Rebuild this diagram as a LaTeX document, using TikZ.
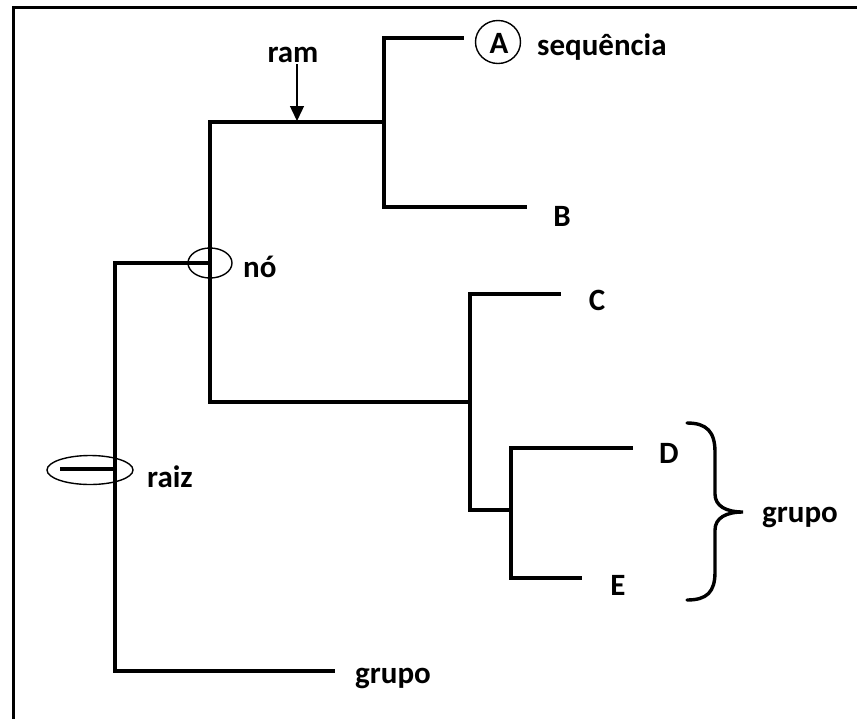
\documentclass[tikz,border=0pt]{standalone}
\usepackage{fontspec}
\setmainfont{Carlito}
\usetikzlibrary{arrows.meta}
\begin{document}
\begin{tikzpicture}[x=1pt,y=-1pt,
  tree/.style={line width=3.8pt,line join=miter,line cap=rect},
  thin/.style={line width=1.4pt},
  lbl/.style={inner sep=0pt,font=\fontsize{31}{36}\selectfont\bfseries},
]
\useasboundingbox (0,0) rectangle (857,718);
\clip (0,0) rectangle (857,718);
% frame (top and left sides)
\draw[line width=3.8pt] (870,7.5) -- (13.5,7.5) -- (13.5,730);

% coordinates of the tree
\coordinate (rootT) at (115,263);
\coordinate (rootB) at (115,671);
\coordinate (stub) at (62,469);
\coordinate (stubE) at (115,469);
\coordinate (nodeT) at (210,122);
\coordinate (nodeM) at (210,263);
\coordinate (nodeB) at (210,402);
\coordinate (ab) at (384,122);
\coordinate (abT) at (384,38);
\coordinate (abB) at (384,207);
\coordinate (aEnd) at (462,38);
\coordinate (bEnd) at (525,207);
\coordinate (cde) at (470,402);
\coordinate (cdeT) at (470,294);
\coordinate (cdeB) at (470,510);
\coordinate (cEnd) at (559,294);
\coordinate (de) at (511,510);
\coordinate (deT) at (511,448);
\coordinate (deB) at (511,578);
\coordinate (dEnd) at (631,448);
\coordinate (eEnd) at (580,578);
\coordinate (gEnd) at (333,671);

% branches
\draw[tree] (gEnd) -- (rootB) -- (rootT) -- (nodeM);
\draw[tree] (stub) -- (stubE);
\draw[tree] (ab) -- (nodeT) -- (nodeB) -- (cde);
\draw[tree] (aEnd) -- (abT) -- (abB) -- (bEnd);
\draw[tree] (cEnd) -- (cdeT) -- (cdeB) -- (de);
\draw[tree] (dEnd) -- (deT) -- (deB) -- (eEnd);

% ellipses
\draw[thin] (nodeM) ellipse [x radius=22, y radius=15];
\draw[thin] (90,470) ellipse [x radius=43, y radius=14.5];

% labels
\node[lbl,anchor=base] (ram) at (293,62) {ram};
\coordinate (ramTip) at (297,121);
\draw[thin,-{Triangle[length=15pt,width=14pt]}] (297,64) -- (ramTip);
\node[lbl,anchor=base] (A) at (499,53) {A};
\draw[thin] (498,42) ellipse [x radius=22.5, y radius=21.5];
\node[lbl,anchor=base west] (seq) at (537,55) {sequência};
\node[lbl,anchor=base] (B) at (562,226) {B};
\node[lbl,anchor=base west] (no) at (243,277) {nó};
\node[lbl,anchor=base] (C) at (597,310) {C};
\node[lbl,anchor=base] (D) at (669,463) {D};
\node[lbl,anchor=base west] (raiz) at (147,487) {raiz};
\node[lbl,anchor=base] (E) at (618,595) {E};
\node[lbl,anchor=base west] (grupo1) at (762,522) {grupo};
\node[lbl,anchor=base west] (grupo2) at (355,683) {grupo};

% brace
\draw[line width=3.4pt,line cap=round]
  (687,423) .. controls (707,423) and (715,432) .. (715,452)
  -- (715,494) .. controls (715,506) and (726,512) .. (743,512)
  .. controls (726,512) and (715,518) .. (715,530)
  -- (715,572) .. controls (715,592) and (707,600) .. (687,600);
\end{tikzpicture}
\end{document}
